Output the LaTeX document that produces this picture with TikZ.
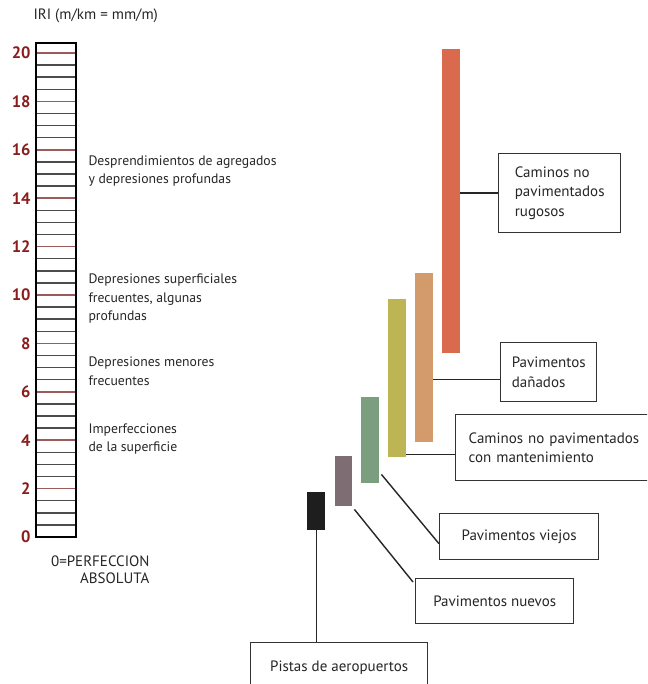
\documentclass[tikz,border=0pt]{standalone}
\usepackage{fontspec}
\setmainfont{PT Sans}
\definecolor{txtgray}{HTML}{262626}
\definecolor{numred}{HTML}{8B1C1C}
\definecolor{tickred}{HTML}{9C5A5A}
\definecolor{rugcol}{HTML}{D96A4E}
\definecolor{dancol}{HTML}{D39A6B}
\definecolor{mancol}{HTML}{BDB553}
\definecolor{viecol}{HTML}{7B9E7E}
\definecolor{nuecol}{HTML}{7E6E74}
\definecolor{piscol}{HTML}{1E1E1E}
\tikzset{
  bar/.style={anchor=north west, inner sep=0pt, minimum width=18pt},
  labelbox/.style={draw=black!80, line width=1.4pt, anchor=north west, align=left,
    text=txtgray, font=\fontsize{15}{19.5}\selectfont},
  desc/.style={anchor=west, align=left, text=txtgray, font=\fontsize{13.7}{18.5}\selectfont},
  num/.style={anchor=east, text=numred, font=\fontsize{16.5}{16.5}\selectfont\bfseries},
  conn/.style={draw=black!85, line width=1.4pt}
}
\begin{document}
\begin{tikzpicture}[x=1pt,y=-1pt]
  \clip (0,0) rectangle (647,684);
  \fill[white] (0,0) rectangle (647,684);
  % scale
  \node[anchor=west, text=txtgray, font=\fontsize{15}{15}\selectfont] (iri) at (30,16) {IRI (m/km = mm/m)};
  \foreach \i in {1,...,40}
    \draw[black!70, line width=1.5pt] (37,{537-12.1*\i}) -- (75,{537-12.1*\i});
  \foreach \v in {2,4,...,20}
    \draw[tickred, line width=1.5pt] (37,{537-24.2*\v}) -- (75,{537-24.2*\v});
  \draw[black, line width=1.4pt] (36,43) rectangle (76,537);
  \foreach \v in {0,2,...,20}
    \node[num] (n\v) at (34,{537-24.2*\v}) {\v};
  \node[anchor=east, align=right, text=txtgray, font=\fontsize{15}{17}\selectfont] (perf) at (153,570) {0=PERFECCION\\ABSOLUTA};
  % descriptions
  \node[desc] (d1) at (85,171) {Desprendimientos de agregados\\y depresiones profundas};
  \node[desc] (d2) at (85,299) {Depresiones superficiales\\frecuentes, algunas\\profundas};
  \node[desc] (d3) at (85,371) {Depresiones menores\\frecuentes};
  \node[desc] (d4) at (85,439) {Imperfecciones\\de la superficie};
  % bars
  \node[bar, fill=rugcol, minimum height=304pt] (rugbar) at (442,49) {};
  \node[bar, fill=dancol, minimum height=169pt] (danbar) at (415,273) {};
  \node[bar, fill=mancol, minimum height=158pt] (manbar) at (388,299) {};
  \node[bar, fill=viecol, minimum height=86pt] (viebar) at (361,397) {};
  \node[bar, fill=nuecol, minimum height=50pt, minimum width=17pt] (nuebar) at (335,456) {};
  \node[bar, fill=piscol, minimum height=38pt] (pisbar) at (307,492) {};
  % boxes
  \node[labelbox, minimum width=122pt, minimum height=79pt] (rugbox) at (498,153) {Caminos no\\pavimentados\\rugosos};
  \node[labelbox, minimum width=96pt, minimum height=59pt] (danbox) at (500,342) {Pavimentos\\dañados};
  \node[labelbox, text width=185pt, inner xsep=13pt, minimum height=66pt] (manbox) at (455,414) {Caminos no pavimentados\\con mantenimiento};
  \node[labelbox, minimum width=159pt, minimum height=46pt] (viebox) at (439,513) {Pavimentos viejos};
  \node[labelbox, minimum width=158pt, minimum height=45pt] (nuebox) at (415,578) {Pavimentos nuevos};
  \node[labelbox, minimum width=177pt, minimum height=50pt] (pisbox) at (250,642) {Pistas de aeropuertos};
  % connectors
  \coordinate (danend) at ([yshift=-7pt]danbox.west);
  \coordinate (manend) at ([yshift=-7pt]manbox.west);
  \draw[conn] (rugbox.west) -- (rugbox.west -| rugbar.east);
  \draw[conn] (danend) -- (danend -| danbar.east);
  \draw[conn] (manend) -- (manend -| manbar.east);
  \draw[conn] ([shift={(2pt,9pt)}]viebar.south east) -- ([yshift=-7pt]viebox.west);
  \draw[conn] ([shift={(2pt,-3pt)}]nuebar.south east) -- ([shift={(-2pt,-4pt)}]nuebox.north west);
  \draw[conn] (pisbar.south) -- (pisbar.south |- pisbox.north);
\end{tikzpicture}
\end{document}
